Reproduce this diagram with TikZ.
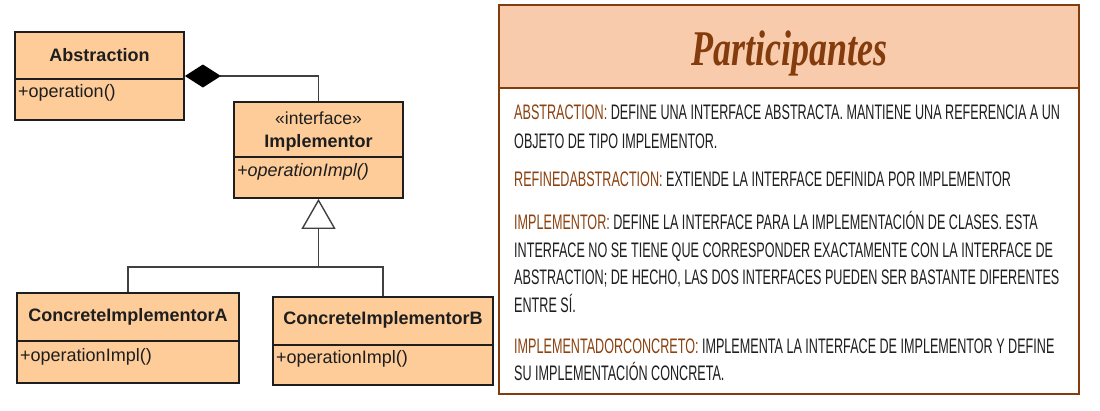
\documentclass[tikz,border=0pt]{standalone}
\usepackage{fontspec}
\setmainfont{Liberation Sans}
\usetikzlibrary{arrows.meta}
\newfontfamily\umlfont{Liberation Sans}
\newfontfamily\amfont[FakeStretch=0.60]{Liberation Sans}
\newfontfamily\titlefont[FakeStretch=0.72]{Liberation Serif}
\definecolor{umlfill}{HTML}{FDCC99}
\definecolor{hdrfill}{HTML}{F8CBAD}
\definecolor{brn}{HTML}{843C0C}
\definecolor{lab}{HTML}{8A4210}
\definecolor{ink}{HTML}{1E1E1E}
\tikzset{
  umlbox/.style={draw=ink, line width=1.8pt, fill=umlfill, inner sep=0pt},
  umlname/.style={font=\umlfont\bfseries\fontsize{18}{20}\selectfont, text=ink, inner sep=0pt},
  umlop/.style={font=\umlfont\fontsize{18}{20}\selectfont, text=ink, inner sep=0pt, anchor=west},
  divider/.style={draw=ink, line width=1.8pt},
  conn/.style={draw=ink!85, line width=1.4pt},
  bodyline/.style={font=\amfont\fontsize{21}{23}\selectfont, text=ink, inner sep=0pt, anchor=base west},
}
\begin{document}
\begin{tikzpicture}[x=1pt,y=-1pt]
\useasboundingbox (0,0) rectangle (1100,410);
\fill[white] (0,0) rectangle (1100,410);

% ---------- UML ----------
\node[umlbox, minimum width=169pt, minimum height=88pt] (abs) at (99.5,76) {};
\draw[divider] (15,79) -- (184,79);
\node[umlname] (absname) at (99.5,55) {Abstraction};
\node[umlop] (absop) at (18,93) {+operation()};

\node[umlbox, minimum width=169pt, minimum height=96pt] (impl) at (318.5,150) {};
\draw[divider] (234,157) -- (403,157);
\node[umlop, anchor=center, font=\umlfont\fontsize{17.5}{20}\selectfont] (implst) at (318.5,118) {«interface»};
\node[umlname] (implname) at (318.5,143) {Implementor};
\node[umlop, font=\umlfont\itshape\fontsize{18}{20}\selectfont] (implop) at (237,172) {+operationImpl()};

\node[umlbox, minimum width=222pt, minimum height=90pt] (ca) at (128,338) {};
\draw[divider] (17,341) -- (239,341);
\node[umlname] (caname) at (128,317) {ConcreteImplementorA};
\node[umlop] (caop) at (20,357) {+operationImpl()};

\node[umlbox, minimum width=220pt, minimum height=88pt] (cb) at (383,341) {};
\draw[divider] (273,345) -- (493,345);
\node[umlname] (cbname) at (383,320) {ConcreteImplementorB};
\node[umlop] (cbop) at (276,359) {+operationImpl()};

% composition
\draw[conn, -{Diamond[length=36pt, width=23pt, fill=black, line width=0pt]}] (impl.north) |- (abs.east);
% generalization
\coordinate (j) at (318.5,267);
\draw[conn] (ca.north) |- (j) -| (cb.north);
\draw[conn, -{Triangle[open, length=30pt, width=34pt, fill=white, line width=1.4pt]}] (j) -- (impl.south);

% ---------- Panel ----------
\node[draw=brn, line width=2.2pt, fill=white, minimum width=580pt, minimum height=389pt, inner sep=0pt] (panel) at (789,199.5) {};
\node[draw=brn, line width=2.2pt, fill=hdrfill, minimum width=580pt, minimum height=83pt, inner sep=0pt] (hdr) at (789,46.5) {};
\node[font=\titlefont\bfseries\itshape\fontsize{50}{52}\selectfont, text=brn, anchor=base, inner sep=0pt] (title) at (789,65) {Participantes};

\node[bodyline] (l1) at (514,119.5) {{\color{lab}ABSTRACTION:} DEFINE UNA INTERFACE ABSTRACTA. MANTIENE UNA REFERENCIA A UN};
\node[bodyline] (l2) at (514,148.5) {OBJETO DE TIPO IMPLEMENTOR.};
\node[bodyline] (l3) at (514,186.5) {{\color{lab}REFINEDABSTRACTION:} EXTIENDE LA INTERFACE DEFINIDA POR IMPLEMENTOR};
\node[bodyline] (l4) at (514,229.5) {{\color{lab}IMPLEMENTOR:} DEFINE LA INTERFACE PARA LA IMPLEMENTACIÓN DE CLASES. ESTA};
\node[bodyline] (l5) at (514,257.5) {INTERFACE NO SE TIENE QUE CORRESPONDER EXACTAMENTE CON LA INTERFACE DE};
\node[bodyline] (l6) at (514,284.5) {ABSTRACTION; DE HECHO, LAS DOS INTERFACES PUEDEN SER BASTANTE DIFERENTES};
\node[bodyline] (l7) at (514,312.5) {ENTRE SÍ.};
\node[bodyline] (l8) at (514,353.5) {{\color{lab}IMPLEMENTADORCONCRETO:} IMPLEMENTA LA INTERFACE DE IMPLEMENTOR Y DEFINE};
\node[bodyline] (l9) at (514,380.5) {SU IMPLEMENTACIÓN CONCRETA.};
\end{tikzpicture}
\end{document}
